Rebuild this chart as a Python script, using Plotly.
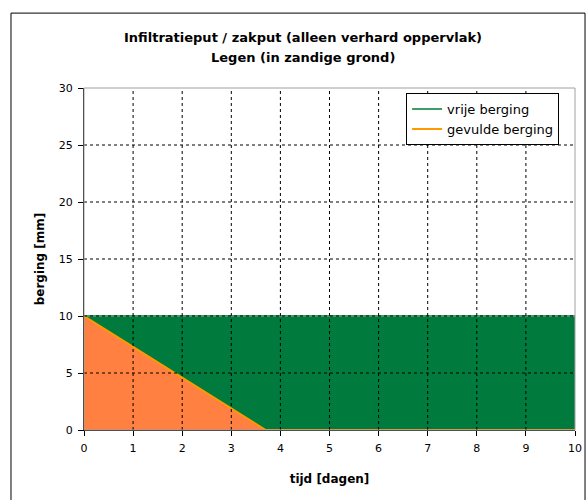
import plotly.graph_objects as go

# storage over time (days)
t_vrij = [0, 10]
vrije_berging = [10, 10]
t_gevuld = [0, 3.7, 10]
gevulde_berging = [10, 0, 0]

x_ticks = list(range(0, 11))
y_ticks = [0, 5, 10, 15, 20, 25, 30]

title_lines = ["Infiltratieput / zakput (alleen verhard oppervlak)", "Legen (in zandige grond)"]

SANS = "DejaVu Sans, Verdana, sans-serif"

GREEN_FILL, GREEN_LINE = "#007a3d", "#3c9d69"
ORANGE_FILL, ORANGE_LINE = "#ff8040", "#ff9900"

fig = go.Figure()
# filled areas (no legend entries)
fig.add_trace(go.Scatter(x=t_vrij, y=vrije_berging, mode="lines", showlegend=False,
                         line=dict(width=0), fill="tozeroy", fillcolor=GREEN_FILL,
                         hoverinfo="skip"))
fig.add_trace(go.Scatter(x=t_gevuld, y=gevulde_berging, mode="lines", showlegend=False,
                         line=dict(width=0), fill="tozeroy", fillcolor=ORANGE_FILL,
                         hoverinfo="skip"))
# outline series shown in the legend
fig.add_trace(go.Scatter(x=t_vrij, y=vrije_berging, name="vrije berging", mode="lines",
                         line=dict(color=GREEN_LINE, width=2)))
fig.add_trace(go.Scatter(x=t_gevuld, y=gevulde_berging, name="gevulde berging", mode="lines",
                         line=dict(color=ORANGE_LINE, width=2)))

shapes = []
# dashed gridlines drawn over the filled areas
for xv in x_ticks[1:-1]:
    shapes.append(dict(type="line", xref="x", yref="y", x0=xv, x1=xv, y0=0, y1=30,
                       line=dict(color="black", width=1, dash="3px,3px"), layer="above"))
for yv in y_ticks[1:-1]:
    shapes.append(dict(type="line", xref="x", yref="y", x0=0, x1=10, y0=yv, y1=yv,
                       line=dict(color="black", width=1, dash="3px,3px"), layer="above"))
# grey plot-area frame (top/right)
shapes.append(dict(type="rect", xref="paper", yref="paper", x0=0, x1=1, y0=0, y1=1,
                   line=dict(color="#a0a0a0", width=1), layer="above"))
# outer chart frame
shapes.append(dict(type="rect", xref="paper", yref="paper", x0=-0.1487, x1=1.0204,
                   y0=-0.22, y1=1.219, line=dict(color="black", width=1), layer="below"))

# two-line bold heading
annotations = [
    dict(text=f"<b>{line}</b>", xref="paper", yref="paper", x=0.446, y=yy,
         xanchor="center", yanchor="middle", showarrow=False,
         font=dict(family=SANS, size=13))
    for line, yy in zip(title_lines, [1.149, 1.0906])
]

fig.update_layout(
    width=586, height=500,
    margin=dict(l=84, r=11, t=88, b=70),
    paper_bgcolor="white", plot_bgcolor="white",
    font=dict(family=SANS, size=11, color="black"),
    showlegend=True,
    legend=dict(x=0.656, y=0.985, xanchor="left", yanchor="top",
                bgcolor="white", bordercolor="black", borderwidth=1,
                font=dict(family=SANS, size=13), tracegroupgap=0, itemwidth=30),
    shapes=shapes,
    annotations=annotations,
)
fig.update_xaxes(
    range=[0, 10], tickvals=x_ticks, ticks="outside", ticklen=5, tickcolor="black",
    showgrid=False, zeroline=False, showline=True, linecolor="black", linewidth=1,
    title=dict(text="<b>tijd [dagen]</b>", standoff=20, font=dict(family=SANS, size=12)),
    layer="above traces", automargin=False, ticklabelstandoff=3,
)
fig.update_yaxes(
    range=[0, 30], tickvals=y_ticks, ticks="outside", ticklen=5, tickcolor="black",
    showgrid=False, zeroline=False, showline=True, linecolor="black", linewidth=1,
    title=dict(text="<b>berging [mm]</b>", standoff=11, font=dict(family=SANS, size=12)),
    layer="above traces", automargin=False, ticklabelstandoff=3,
)

fig.write_html("out.html")
